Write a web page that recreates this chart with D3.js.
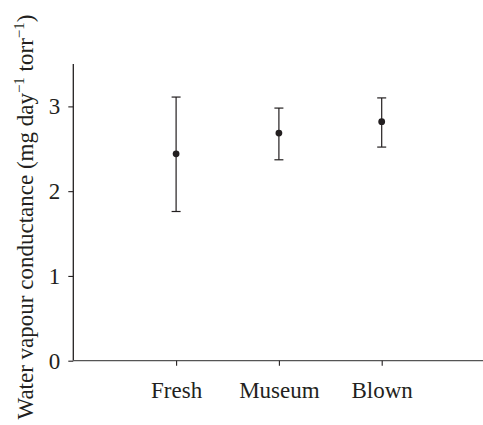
<!DOCTYPE html>
<html><head><meta charset="utf-8">
<script src="https://cdn.jsdelivr.net/npm/d3@7"></script>
<style>body{margin:0;background:#fff}svg{display:block}text{font-family:"Liberation Serif","Times New Roman",serif;fill:#231f20}</style>
</head><body><svg id="c" width="483" height="425"></svg>
<script>
const categories = ["Fresh", "Museum", "Blown"];
const means = [2.44, 2.685, 2.82];
const upper = [3.11, 2.98, 3.10];
const lower = [1.76, 2.37, 2.52];
const yTicks = [0, 1, 2, 3];

const svg = d3.select("#c");
const x = d3.scaleLinear().domain([0, 4]).range([73.3, 484.5]);
const y = d3.scaleLinear().domain([0, 3.5]).range([360.7, 64]);
const col = "#231f20";

const gy = svg.append("g").attr("transform", "translate(73.3,0)")
  .call(d3.axisLeft(y).tickValues(yTicks).tickFormat(d3.format("d")).tickSize(5).tickPadding(8));
gy.select(".domain").attr("d", `M0,${y(3.5)}V${y(0)}`).attr("stroke", col).attr("stroke-width", 1.3);
gy.selectAll(".tick line").attr("stroke", col).attr("stroke-width", 1.1);
gy.selectAll(".tick text").attr("font-size", 23).attr("font-family", "Liberation Serif").attr("fill", col);

const gx = svg.append("g").attr("transform", "translate(0,360.7)")
  .call(d3.axisBottom(x).tickValues([1, 2, 3]).tickFormat((d) => categories[d - 1]).tickSize(5).tickPadding(16));
gx.select(".domain").attr("d", `M${x(0)},0H483`).attr("stroke", "#555").attr("stroke-width", 1.3);
gx.selectAll(".tick line").attr("stroke", col).attr("stroke-width", 1.1);
gx.selectAll(".tick text").attr("font-size", 23).attr("font-family", "Liberation Serif").attr("fill", col);

const data = categories.map((c, i) => ({c, i: i + 1, m: means[i], u: upper[i], l: lower[i]}));
const g = svg.append("g");
g.selectAll(".v").data(data).enter().append("line")
  .attr("x1", d => x(d.i)).attr("x2", d => x(d.i))
  .attr("y1", d => y(d.u)).attr("y2", d => y(d.l))
  .attr("stroke", col).attr("stroke-width", 1.2);
["u", "l"].forEach(k => {
  g.selectAll(".cap" + k).data(data).enter().append("line")
    .attr("x1", d => x(d.i) - 4.5).attr("x2", d => x(d.i) + 4.5)
    .attr("y1", d => y(d[k])).attr("y2", d => y(d[k]))
    .attr("stroke", col).attr("stroke-width", 1.2);
});
g.selectAll("circle").data(data).enter().append("circle")
  .attr("cx", d => x(d.i)).attr("cy", d => y(d.m)).attr("r", 3.4).attr("fill", col);

const t = svg.append("text").attr("transform", "translate(32.5,217) rotate(-90)")
  .attr("text-anchor", "middle").attr("font-size", 23);
t.append("tspan").text("Water vapour conductance (mg day");
t.append("tspan").attr("font-size", 15).attr("dy", -9).text("−1");
t.append("tspan").attr("dy", 9).text(" torr");
t.append("tspan").attr("font-size", 15).attr("dy", -9).text("−1");
t.append("tspan").attr("dy", 9).text(")");
</script></body></html>
